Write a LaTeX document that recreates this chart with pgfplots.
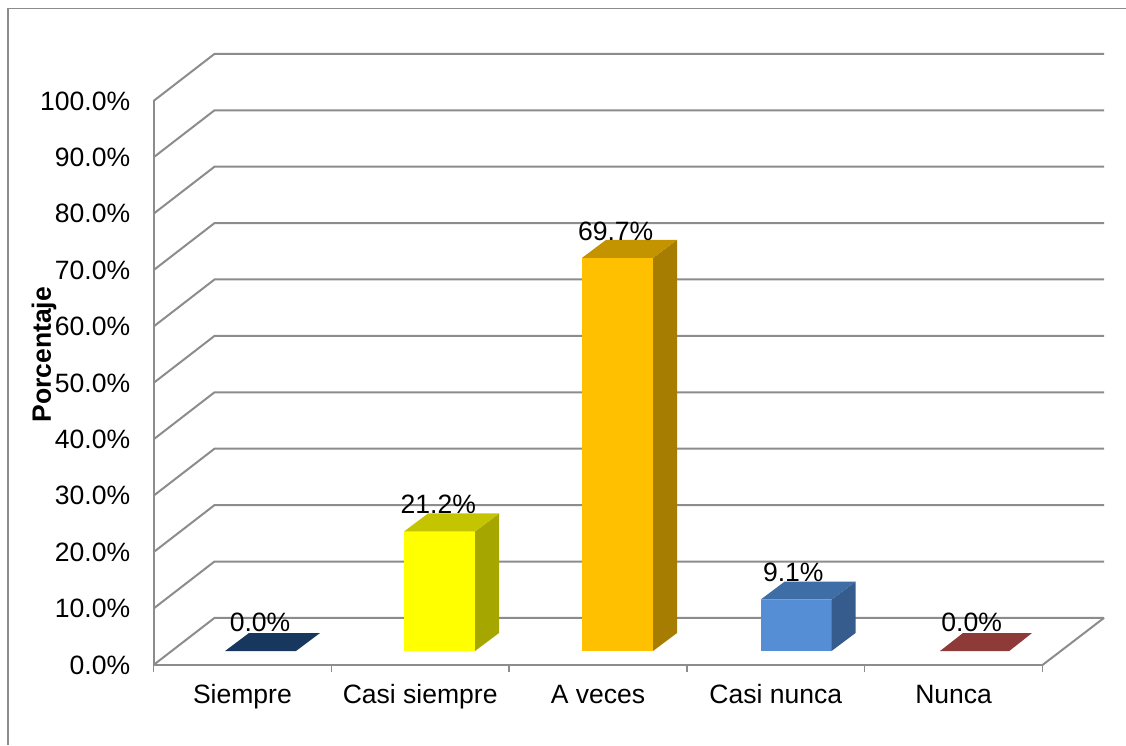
\documentclass[border=0pt]{standalone}
\usepackage{fontspec}
\setmainfont{Liberation Sans}
\usepackage{pgfplots}
\pgfplotsset{compat=1.18}
\definecolor{gridc}{HTML}{8C8C8C}
\definecolor{navy}{HTML}{17375E}
\definecolor{yf}{HTML}{FFFF00}\definecolor{yt}{HTML}{C4C400}\definecolor{ys}{HTML}{A6A600}
\definecolor{of}{HTML}{FFC000}\definecolor{ot}{HTML}{C49400}\definecolor{os}{HTML}{A67D00}
\definecolor{bf}{HTML}{558ED5}\definecolor{bt}{HTML}{3F6DA5}\definecolor{bs}{HTML}{355C8C}
\definecolor{rt}{HTML}{8E3A38}
\newcommand{\lblfont}{\fontsize{19.9pt}{23pt}\selectfont}
\begin{document}
\begin{tikzpicture}[x=0.75pt,y=0.75pt]
\useasboundingbox (0,0) rectangle (1126,745);
\draw[gridc,line width=1.4pt] (8,0) -- (8,736.5) -- (1126,736.5);
\begin{axis}[
  at={(115.125pt,60pt)},anchor=south west,
  scale only axis,width=666.75pt,height=423pt,
  xmin=0,xmax=889,ymin=0,ymax=100,
  clip=false,
  axis x line=bottom,axis y line=left,
  axis line style={-,gridc,line width=1.5pt},
  ytick={0,10,...,100},
  yticklabels={0.0\%,10.0\%,20.0\%,30.0\%,40.0\%,50.0\%,60.0\%,70.0\%,80.0\%,90.0\%,100.0\%},
  xtick={88.9,266.7,444.5,622.3,800.1},
  xticklabels={Siempre,Casi siempre,A veces,Casi nunca,Nunca},
  minor xtick={0,177.8,355.6,533.4,711.2,889},
  major tick length=0pt,
  minor tick length=5.25pt,
  minor tick style={gridc,line width=1.1pt},
  xminorticks=true,
  tick align=outside,
  ticklabel style={font=\lblfont,text=black},
  yticklabel style={xshift=-14pt},
  xticklabel style={yshift=-10.5pt,text height=14.5pt,text depth=4pt},
  ylabel={\bfseries Porcentaje},
  every axis y label/.style={at={(axis cs:-109.5,55)},rotate=90,anchor=center,font=\lblfont},
]
% back wall and side wall grid
\pgfplotsinvokeforeach{0,10,20,30,40,50,60,70,80,90,100}{
  \addplot[gridc,line width=1.5pt,forget plot] coordinates {(0,#1) (61,#1+8.35) (950.5,#1+8.35)};
}
\addplot[gridc,line width=1.5pt,forget plot] coordinates {(889,0) (950.5,8.35)};
% Siempre 0.0
\addplot[draw=none,fill=navy] coordinates {(71.5,2.48) (142.5,2.48) (166.5,5.67) (95.5,5.67)} -- cycle;
% Casi siempre 21.2
\addplot[draw=none,fill=yf] coordinates {(250.5,2.48) (321.5,2.48) (321.5,23.68) (250.5,23.68)} -- cycle;
\addplot[draw=none,fill=ys] coordinates {(321.5,2.48) (345.5,5.67) (345.5,26.87) (321.5,23.68)} -- cycle;
\addplot[draw=none,fill=yt] coordinates {(250.5,23.68) (321.5,23.68) (345.5,26.87) (274.5,26.87)} -- cycle;
% A veces 69.7
\addplot[draw=none,fill=of] coordinates {(428.5,2.48) (499.5,2.48) (499.5,72.18) (428.5,72.18)} -- cycle;
\addplot[draw=none,fill=os] coordinates {(499.5,2.48) (523.5,5.67) (523.5,75.37) (499.5,72.18)} -- cycle;
\addplot[draw=none,fill=ot] coordinates {(428.5,72.18) (499.5,72.18) (523.5,75.37) (452.5,75.37)} -- cycle;
% Casi nunca 9.1
\addplot[draw=none,fill=bf] coordinates {(607,2.48) (678,2.48) (678,11.58) (607,11.58)} -- cycle;
\addplot[draw=none,fill=bs] coordinates {(678,2.48) (702,5.67) (702,14.77) (678,11.58)} -- cycle;
\addplot[draw=none,fill=bt] coordinates {(607,11.58) (678,11.58) (702,14.77) (631,14.77)} -- cycle;
% Nunca 0.0
\addplot[draw=none,fill=rt] coordinates {(786.5,2.48) (855.8,2.48) (878.5,5.67) (809.5,5.67)} -- cycle;
% data labels
\begin{scope}[every node/.style={anchor=base,inner sep=0pt,font=\lblfont}]
\node at (axis cs:106.5,5.86) {0.0\%};
\node at (axis cs:284.8,26.9) {21.2\%};
\node at (axis cs:462.2,75.3) {69.7\%};
\node at (axis cs:639.8,14.77) {9.1\%};
\node at (axis cs:818.2,5.86) {0.0\%};
\end{scope}
\end{axis}
\end{tikzpicture}
\end{document}
